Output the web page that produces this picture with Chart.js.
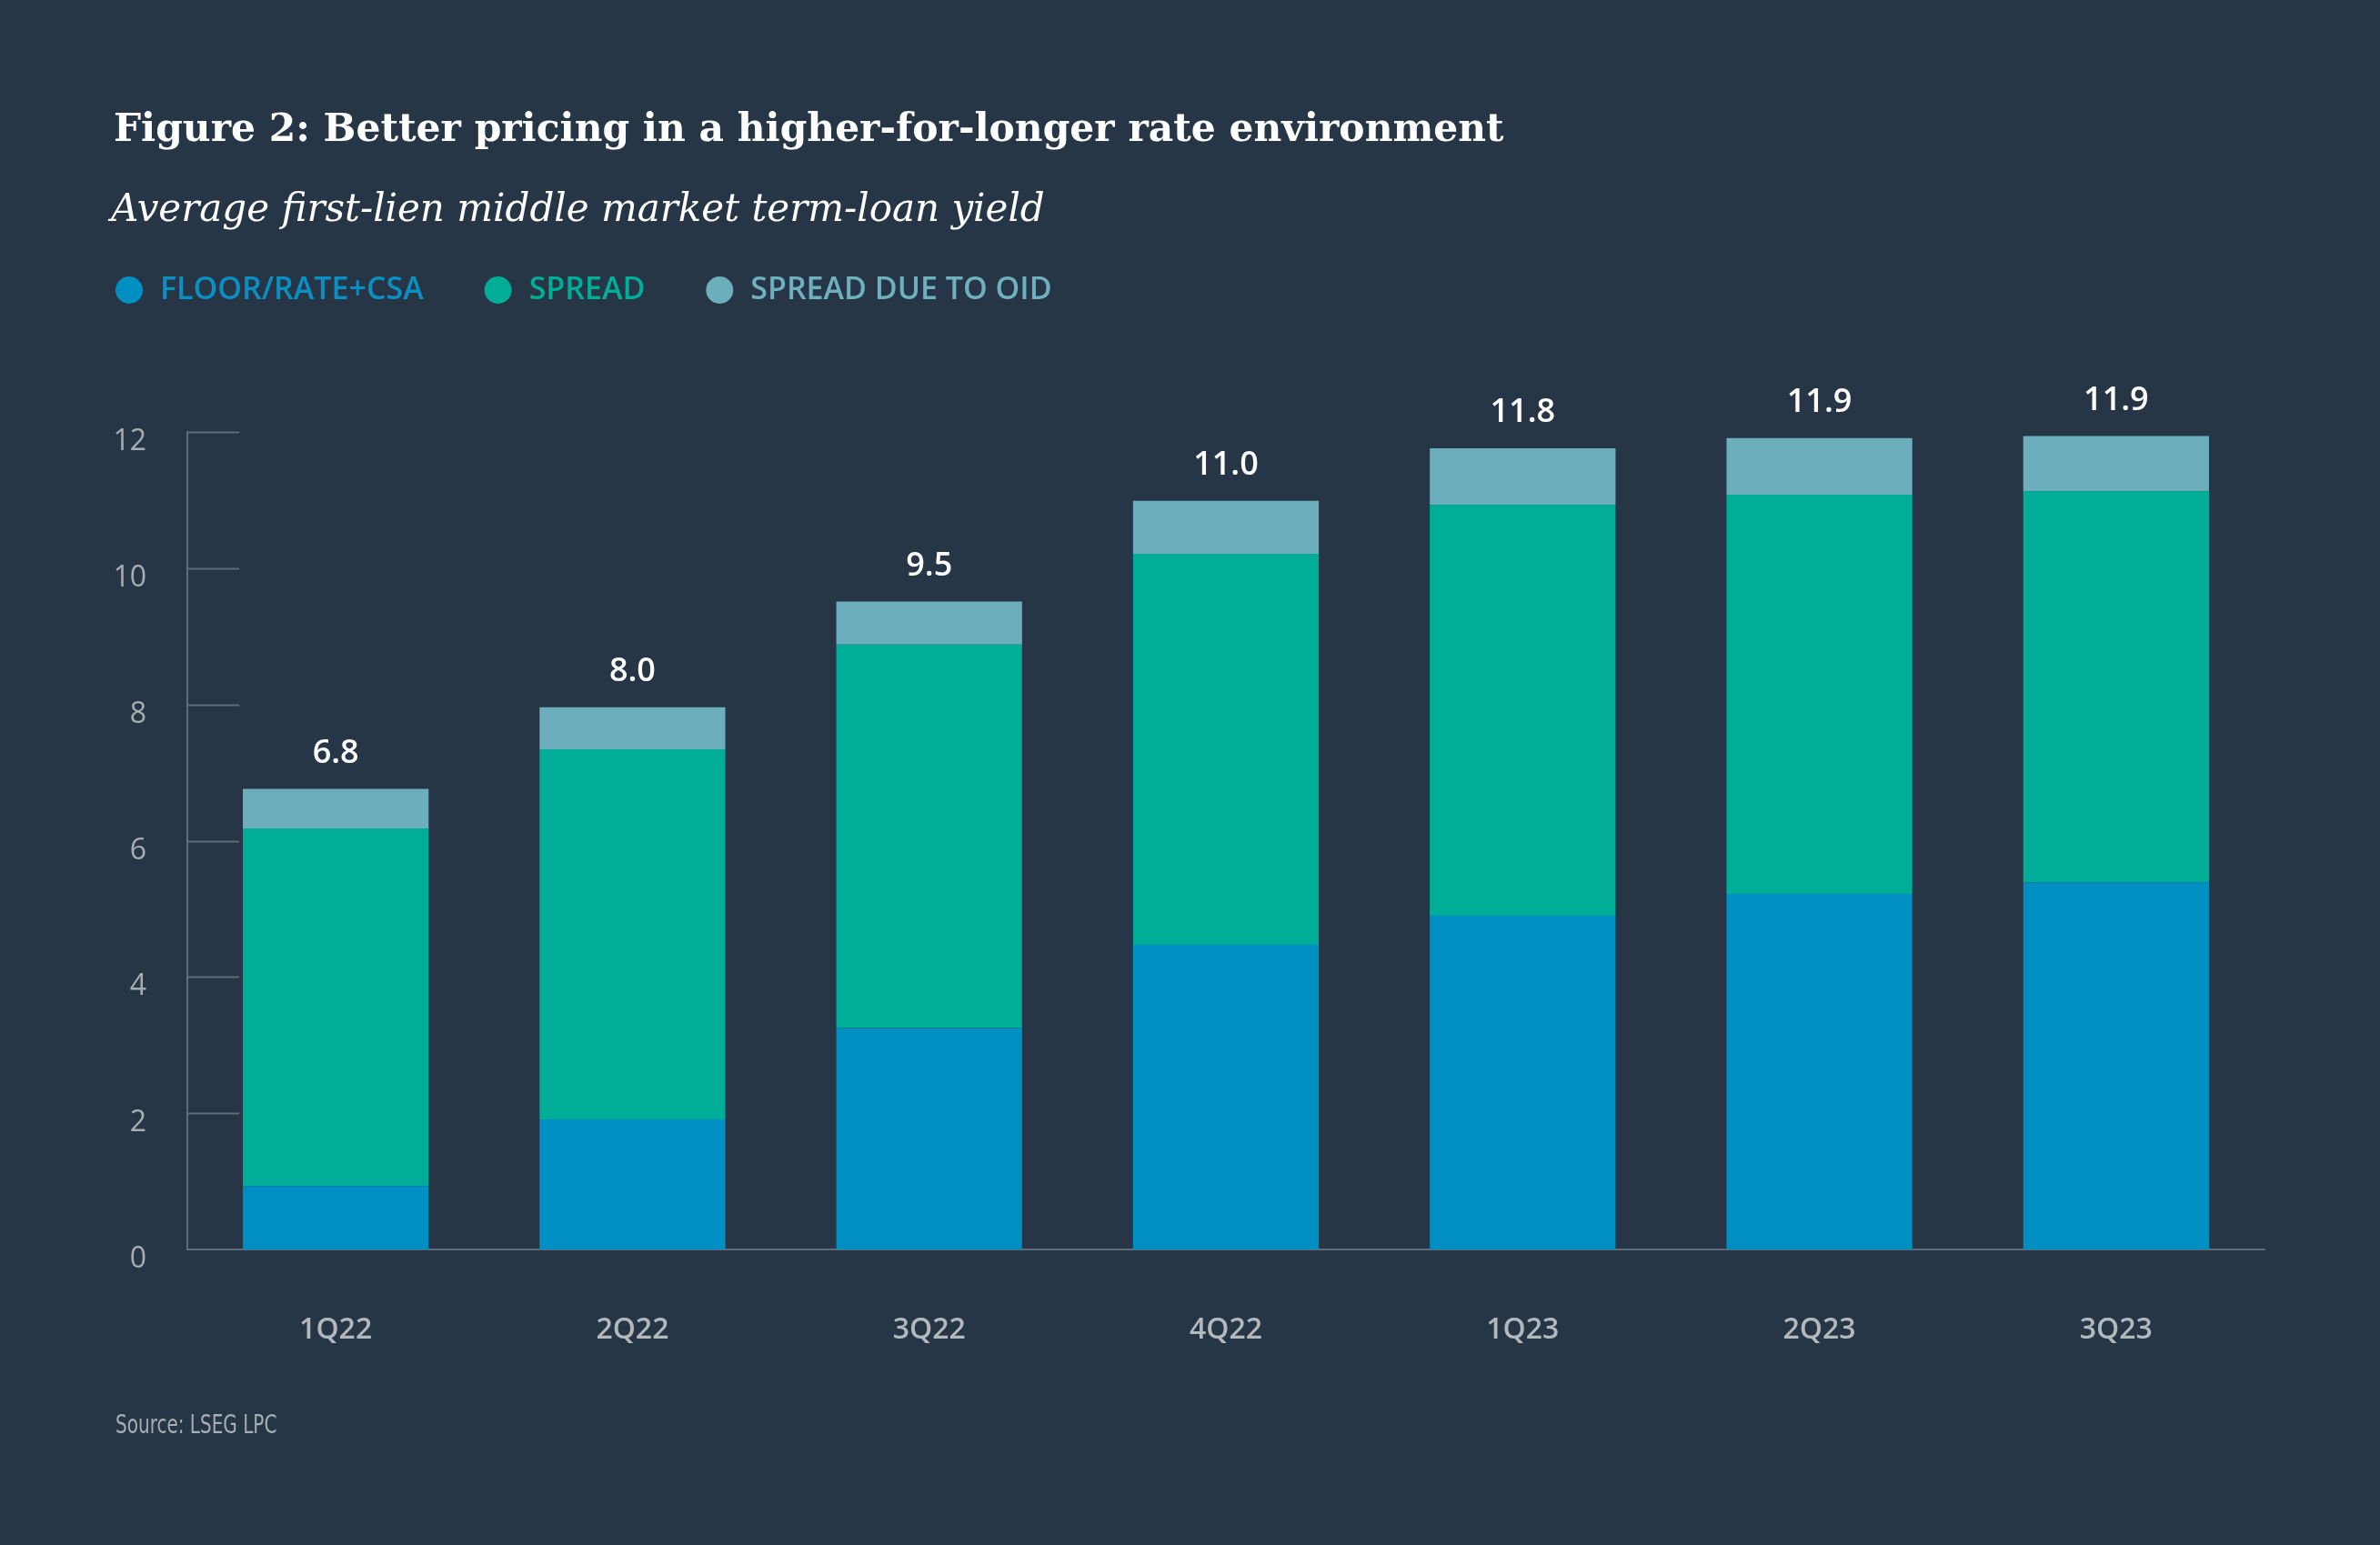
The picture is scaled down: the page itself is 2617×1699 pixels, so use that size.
<!DOCTYPE html>
<html>
<head>
<meta charset="utf-8">
<script src="https://cdn.jsdelivr.net/npm/chart.js@4.4.0/dist/chart.umd.min.js"></script>
<style>
  html, body { margin: 0; padding: 0; background: #263646; }
  #wrap { position: relative; width: 2617px; height: 1699px; background: #263646; overflow: hidden; }
  #c { position: absolute; left: 0; top: 0; }
  .title { position: absolute; left: 125px; top: 115px; color: #ffffff; font-family: "DejaVu Serif", "Liberation Serif", serif; font-weight: bold; font-size: 42.4px; line-height: 50px; white-space: nowrap; }
  .subtitle { position: absolute; left: 122px; top: 204px; color: #ffffff; font-family: "DejaVu Serif", "Liberation Serif", serif; font-style: italic; font-size: 42px; line-height: 50px; white-space: nowrap; }
  .source { position: absolute; left: 127px; top: 1549px; color: #a7adb2; font-family: "DejaVu Sans", sans-serif; font-size: 29px; line-height: 34px; white-space: nowrap; transform: scaleX(0.69); transform-origin: left top; }
</style>
</head>
<body>
<div id="wrap">
  <canvas id="c" width="2617" height="1699"></canvas>
  <div class="title">Figure 2: Better pricing in a higher-for-longer rate environment</div>
  <div class="subtitle">Average first-lien middle market term-loan yield</div>
  <div class="source">Source: LSEG LPC</div>
</div>
<script>
// ---- data ----
const categories = ['1Q22', '2Q22', '3Q22', '4Q22', '1Q23', '2Q23', '3Q23'];
const floorRateCSA = [0.93, 1.91, 3.25, 4.47, 4.90, 5.22, 5.39];
const spread = [5.25, 5.43, 5.63, 5.74, 6.03, 5.86, 5.74];
const spreadDueToOID = [0.58, 0.62, 0.63, 0.78, 0.83, 0.83, 0.81];
const totalLabels = ['6.8', '8.0', '9.5', '11.0', '11.8', '11.9', '11.9'];
const yTickValues = [0, 2, 4, 6, 8, 10, 12];
const seriesNames = ['FLOOR/RATE+CSA', 'SPREAD', 'SPREAD DUE TO OID'];

// ---- styles ----
const colBlue = '#008fc2';
const colGreen = '#00ae98';
const colLight = '#6daebd';
const legendTextColors = ['#0b8fc3', '#00ae98', '#6fb0bf'];
const axisColor = '#5f6c79';
const SANS = '"Open Sans", "Noto Sans", sans-serif';

const tickMarks = {
  id: 'tickMarks',
  beforeDatasetsDraw(chart) {
    const ctx = chart.ctx, ys = chart.scales.y, left = chart.chartArea.left;
    ctx.save();
    ctx.strokeStyle = axisColor;
    ctx.lineWidth = 2;
    yTickValues.forEach(v => {
      if (v === 0) return;
      const py = Math.round(ys.getPixelForValue(v)) + 0.5;
      ctx.beginPath();
      ctx.moveTo(left, py);
      ctx.lineTo(left + 57, py);
      ctx.stroke();
    });
    ctx.restore();
  }
};

const totalsPlugin = {
  id: 'totals',
  afterDatasetsDraw(chart) {
    const ctx = chart.ctx;
    const meta = chart.getDatasetMeta(chart.data.datasets.length - 1);
    ctx.save();
    ctx.fillStyle = '#ffffff';
    ctx.font = '600 36px ' + SANS;
    ctx.textAlign = 'center';
    ctx.textBaseline = 'middle';
    meta.data.forEach((bar, i) => {
      ctx.fillText(totalLabels[i], bar.x, bar.y - 39);
    });
    ctx.restore();
  }
};

new Chart(document.getElementById('c'), {
  type: 'bar',
  data: {
    labels: categories,
    datasets: [
      { label: seriesNames[0], data: floorRateCSA, backgroundColor: colBlue },
      { label: seriesNames[1], data: spread, backgroundColor: colGreen },
      { label: seriesNames[2], data: spreadDueToOID, backgroundColor: colLight }
    ]
  },
  options: {
    responsive: false,
    devicePixelRatio: 1,
    animation: false,
    datasets: { bar: { barPercentage: 0.626, categoryPercentage: 1.0, borderWidth: 0 } },
    layout: { padding: { left: 60, right: 127, top: 237, bottom: 219 } },
    plugins: {
      title: { display: false },
      tooltip: { enabled: false },
      legend: {
        display: true,
        position: 'top',
        align: 'start',
        labels: {
          usePointStyle: true,
          pointStyle: 'circle',
          boxWidth: 34,
          boxHeight: 21.2,
          padding: 65,
          font: { family: SANS, size: 34, weight: '600' },
          generateLabels(chart) {
            return chart.data.datasets.map((ds, i) => ({
              text: ds.label,
              fillStyle: ds.backgroundColor,
              strokeStyle: ds.backgroundColor,
              lineWidth: 0,
              pointStyle: 'circle',
              fontColor: legendTextColors[i],
              hidden: false,
              datasetIndex: i
            }));
          }
        }
      }
    },
    scales: {
      x: {
        stacked: true,
        offset: true,
        grid: { display: false },
        border: { display: true, color: axisColor, width: 2 },
        ticks: { color: '#b3b8bc', padding: 62, font: { family: SANS, size: 32, weight: '600' } },
        afterFit(s) { s.height = 106; }
      },
      spacer: {
        type: 'category',
        position: 'top',
        display: true,
        grid: { display: false },
        border: { display: false },
        ticks: { display: false },
        afterFit(s) { s.height = 129; }
      },
      y: {
        stacked: true,
        min: 0,
        max: 12,
        grid: { display: false },
        border: { display: true, color: axisColor, width: 2 },
        afterBuildTicks(s) { s.ticks = yTickValues.map(v => ({ value: v })); },
        ticks: { color: '#a8adb2', padding: 37, labelOffset: 11, font: { family: SANS, size: 32, weight: '500' } },
        afterFit(s) { s.width = 146; }
      }
    }
  },
  plugins: [tickMarks, totalsPlugin]
});
</script>
</body>
</html>
